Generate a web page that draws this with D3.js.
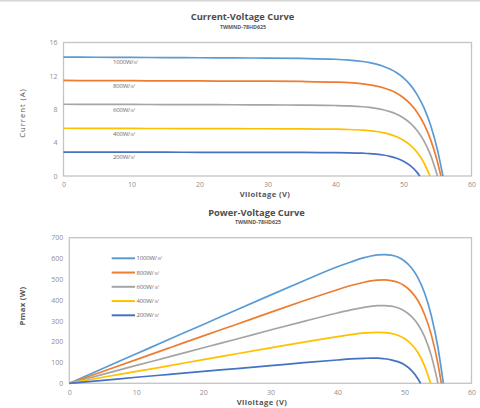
<!DOCTYPE html>
<html><head><meta charset="utf-8">
<script src="https://cdn.jsdelivr.net/npm/d3@7"></script>
<style>
body{margin:0;background:#fff;}
svg{display:block;font-family:"Open Sans","Liberation Sans",sans-serif;}
</style></head>
<body>
<svg id="c" width="480" height="408"></svg>
<script>
// ---- data ----
const voltageGrid = [0,5,10,15,20,25,30,35,40,42,44,45,46,47,48,49,50,51,52,53,54,55];
const irradianceLabels = ["1000W/㎡","800W/㎡","600W/㎡","400W/㎡","200W/㎡"];
const seriesColors = ["#5B9BD5","#ED7D31","#A5A5A5","#FFC000","#4472C4"];
const vocValues = [55.8,55.5,55.0,53.9,52.4];

const current1000 = [14.25,14.23,14.21,14.19,14.17,14.15,14.13,14.09,13.99,13.89,13.72,13.59,13.41,13.16,12.83,12.38,11.76,10.92,9.76,8.19,6.04,3.10];
const current800  = [11.45,11.43,11.42,11.40,11.39,11.37,11.36,11.33,11.25,11.18,11.04,10.93,10.78,10.58,10.30,9.91,9.38,8.65,7.65,6.25,4.33,1.68];
const current600  = [8.60,8.59,8.58,8.56,8.55,8.54,8.52,8.50,8.45,8.40,8.30,8.22,8.10,7.94,7.72,7.41,6.96,6.34,5.46,4.22,2.47];
const current400  = [5.72,5.71,5.70,5.69,5.68,5.67,5.66,5.65,5.61,5.57,5.49,5.42,5.33,5.19,4.99,4.71,4.29,3.70,2.84,1.59];
const current200  = [2.86,2.86,2.85,2.85,2.84,2.84,2.83,2.82,2.80,2.78,2.73,2.69,2.62,2.52,2.36,2.13,1.78,1.24,0.43];

const power1000 = [0,71,142,213,283,354,424,493,560,583,604,612,617,619,616,607,588,557,508,434,326,171];
const power800  = [0,57,114,171,228,284,341,397,450,470,486,492,496,497,494,486,469,441,398,331,234,92];
const power600  = [0,43,86,128,171,213,256,298,338,353,365,370,373,373,371,363,348,323,284,224,133];
const power400  = [0,29,57,85,114,142,170,198,224,234,242,244,245,244,240,231,215,189,148,84];
const power200  = [0,14,29,43,57,71,85,99,112,117,120,121,121,118,113,104,89,63,22];

const xTicks = [0,10,20,30,40,50,60];
const currentTicks = [0,4,8,12,16];
const powerTicks = [0,100,200,300,400,500,600,700];

const currents = [current1000,current800,current600,current400,current200];
const powers = [power1000,power800,power600,power400,power200];

// ---- drawing ----
const svg = d3.select("#c");
const tickColor = "#8f8f8f", titleColor = "#4d4d4d", frameColor = "#c4c4c4";

svg.append("line").attr("x1",0).attr("x2",480).attr("y1",0.8).attr("y2",0.8)
  .attr("stroke","#d6d6d6").attr("stroke-width",1.6);

function toPoints(arr, k){
  const pts = arr.map((v,i)=>[voltageGrid[i], v]);
  pts.push([vocValues[k], 0]);
  return pts;
}

function panel(opt){
  const x = d3.scaleLinear().domain([0,60]).range([opt.left,opt.right]);
  const y = d3.scaleLinear().domain([0,opt.ymax]).range([opt.bottom,opt.top]);
  const g = svg.append("g");

  g.append("text").attr("x",opt.titleX).attr("y",opt.titleY).attr("text-anchor","middle")
    .attr("dominant-baseline","central").attr("font-weight","bold").attr("font-size",opt.titleSize)
    .attr("fill",titleColor).text(opt.title);
  g.append("text").attr("x",opt.subX).attr("y",opt.subY).attr("text-anchor","middle")
    .attr("dominant-baseline","central").attr("font-weight","bold").attr("font-size",5.3)
    .attr("fill","#5a5a5a").text("TWMND-78HD625");

  const ax = g.append("g").attr("transform",`translate(0,${opt.bottom})`)
    .call(d3.axisBottom(x).tickValues(xTicks).tickSize(0).tickPadding(opt.xPad));
  const ay = g.append("g").attr("transform",`translate(${opt.left},0)`)
    .call(d3.axisLeft(y).tickValues(opt.yTicks).tickSize(0).tickPadding(6));
  [ax,ay].forEach(a=>{
    a.select(".domain").remove();
    a.selectAll("text").attr("fill",tickColor).attr("font-size",7)
      .attr("font-family","\"Open Sans\",sans-serif");
  });

  g.append("rect").attr("x",opt.left).attr("y",opt.top)
    .attr("width",opt.right-opt.left).attr("height",opt.bottom-opt.top)
    .attr("fill","none").attr("stroke",frameColor).attr("stroke-width",1.3);

  const line = d3.line().x(d=>x(d[0])).y(d=>y(d[1])).curve(d3.curveMonotoneX);
  opt.data.forEach((arr,k)=>{
    g.append("path").datum(toPoints(arr,k)).attr("d",line)
      .attr("fill","none").attr("stroke",seriesColors[k]).attr("stroke-width",1.7);
  });

  g.append("text").attr("x",opt.xtX).attr("y",opt.xtY).attr("text-anchor","middle")
    .attr("dominant-baseline","central").attr("font-weight","bold").attr("font-size",7.6)
    .attr("letter-spacing",0.4).attr("fill","#555").text("Vlioltage (V)");
  g.append("text").attr("transform",`translate(${opt.ytX},${opt.ytY}) rotate(-90)`)
    .attr("text-anchor","middle").attr("dominant-baseline","central")
    .attr("font-weight",opt.ytBold?"bold":"normal").attr("font-size",7.8)
    .attr("letter-spacing",opt.ytSpacing).attr("fill","#555").text(opt.yTitle);
  return {x,y,g};
}

const ivPanel = panel({left:63.5,right:471.5,top:42.5,bottom:176,ymax:16,yTicks:currentTicks,
  data:currents,title:"Current-Voltage Curve",titleX:242.5,titleY:16.3,titleSize:9.3,
  subX:243,subY:26.5,xPad:6,xtX:265,xtY:194.3,yTitle:"Current (A)",ytX:21.7,ytY:113,
  ytSpacing:0.9,ytBold:false});

irradianceLabels.forEach((lab,k)=>{
  ivPanel.g.append("text").attr("x",113).attr("y",ivPanel.y(currents[k][0])+5.3)
    .attr("dominant-baseline","central").attr("font-size",6).attr("fill","#6a6a6a")
    .attr("letter-spacing",-0.2).text(lab);
});

const pvPanel = panel({left:69.3,right:471.5,top:237.7,bottom:383.3,ymax:700,yTicks:powerTicks,
  data:powers,title:"Power-Voltage Curve",titleX:256.5,titleY:212,titleSize:9.3,
  subX:258,subY:222.3,xPad:7,xtX:262,xtY:402,yTitle:"Pmax (W)",ytX:22,ytY:306,
  ytSpacing:0.3,ytBold:true});

irradianceLabels.forEach((lab,k)=>{
  const ly = 258.3 + k*14.25;
  pvPanel.g.append("line").attr("x1",111.7).attr("x2",135).attr("y1",ly).attr("y2",ly)
    .attr("stroke",seriesColors[k]).attr("stroke-width",2);
  pvPanel.g.append("text").attr("x",136.5).attr("y",ly).attr("dominant-baseline","central")
    .attr("font-size",6).attr("fill","#6a6a6a").attr("letter-spacing",-0.2).text(lab);
});
</script>
</body></html>
